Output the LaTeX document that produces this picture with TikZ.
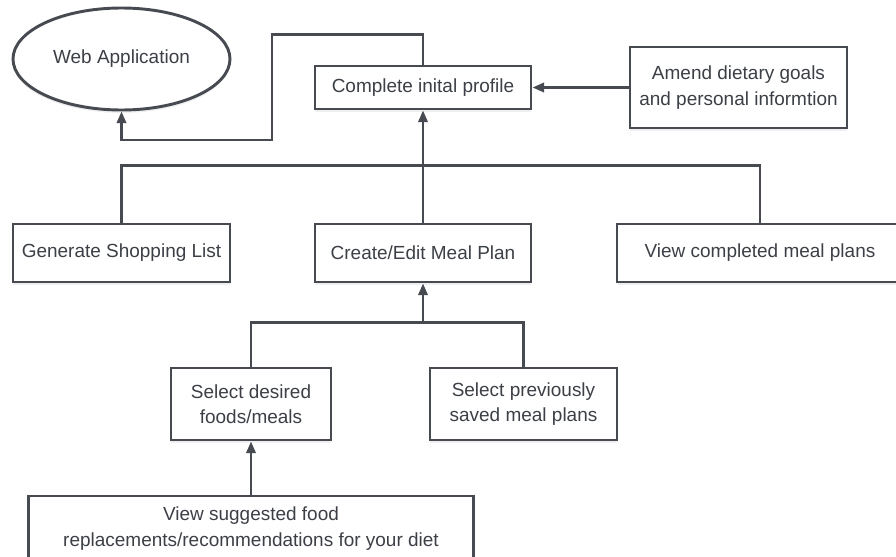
\documentclass[tikz,border=0pt]{standalone}
\usepackage{fontspec}
\setmainfont{Liberation Sans}
\usepackage{tikz}
\usetikzlibrary{shapes,shadows,arrows.meta}
\definecolor{rahmen}{HTML}{474B51}
\definecolor{schrift}{HTML}{3C4046}

\begin{document}
\begin{tikzpicture}[x=0.03cm,y=-0.03cm,
  kasten/.style={draw=rahmen,line width=2.5pt,fill=white,text=schrift,align=center,inner sep=0pt,
    font=\fontsize{16.2}{21.5}\selectfont,
    drop shadow={shadow xshift=0pt,shadow yshift=-2.5pt,opacity=0.12}},
  verbindung/.style={draw=rahmen,line width=2.2pt},
  pfeil/.style={verbindung,-{Triangle[length=10pt,width=8pt]}}]
  \clip (0,0) rectangle (896,556);
  \fill[white] (0,0) rectangle (896,556);
  % Profil oben
  \draw (121.5,59) node[kasten,ellipse,minimum width=6.51cm,minimum height=3.06cm] (webapp) {Web Application}
  (423,87.5) node[kasten,minimum width=6.48cm,minimum height=1.29cm] (profile) {Complete inital profile}
  (738.5,87.5) node[kasten,minimum width=6.51cm,minimum height=2.43cm] (amend)
  {Amend dietary goals\\and personal informtion};
  % mittlere Reihe
  \draw (121.5,253) node[kasten,minimum width=6.51cm,minimum height=1.74cm] (shop) {Generate Shopping List}
  (423,253) node[kasten,minimum width=6.48cm,minimum height=1.74cm] (mealplan) {Create/Edit Meal Plan}
  (760,253) node[kasten,minimum width=8.58cm,minimum height=1.74cm] (viewplans) {View completed meal plans};
  % untere Reihe
  \draw (251,404) node[kasten,minimum width=4.8cm,minimum height=2.16cm] (desired) {Select desired\\foods/meals}
  (523.5,404) node[kasten,minimum width=5.61cm,minimum height=2.16cm] (saved) {Select previously\\saved meal plans}
  (251,528.5) node[kasten,minimum width=13.35cm,minimum height=1.95cm] (suggest)
  {View suggested food\\replacements/recommendations for your diet};
  % Verbindungen
  \draw[pfeil] (amend.west) -- (profile.east);
  \draw[pfeil] (profile.north) -- ++(0,-30) -| (272,140) -| (webapp.south);
  \draw[verbindung] (shop.north) -- ++(0,-57) -| (viewplans.north);
  \draw[pfeil] (mealplan.north) -- (profile.south);
  \draw[verbindung] (desired.north) -- ++(0,-44) -| (saved.north);
  \draw[pfeil] (mealplan.south |- 0,324) -- (mealplan.south);
  \draw[pfeil] (suggest.north) -- (desired.south);
\end{tikzpicture}
\end{document}
